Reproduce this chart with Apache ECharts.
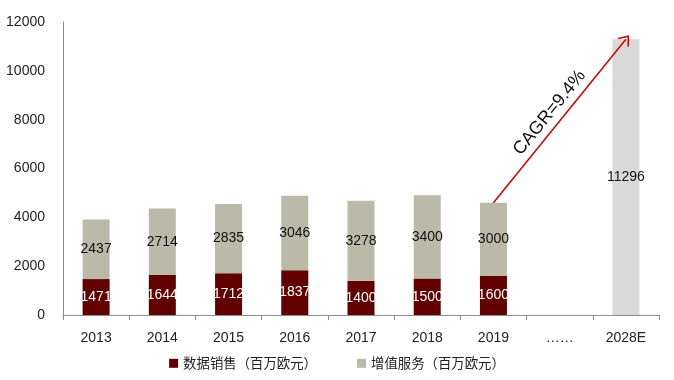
<!DOCTYPE html>
<html><head><meta charset="utf-8">
<script src="https://cdn.jsdelivr.net/npm/echarts@6/dist/echarts.min.js"></script>
<style>html,body{margin:0;padding:0;background:#fff}#c{width:674px;height:380px}</style>
</head><body><div id="c"></div>
<script>
const categories = ['2013','2014','2015','2016','2017','2018','2019','……','2028E'];
const dataSales = [1471,1644,1712,1837,1400,1500,1600,null,null];
const valueAdded = [2437,2714,2835,3046,3278,3400,3000,null,null];
const forecast = [null,null,null,null,null,null,null,null,11296];
const yTicks = {min:0, max:12000, interval:2000};
const seriesNames = ['数据销售（百万欧元）','增值服务（百万欧元）'];
const cagrText = 'CAGR=9.4%';

const numFont = '"Liberation Sans",sans-serif';
const chart = echarts.init(document.getElementById('c'), null, {renderer:'canvas'});
chart.setOption({
  animation:false,
  textStyle:{fontFamily:numFont},
  grid:{left:63,right:15,top:22,bottom:65},
  legend:{
    bottom:5, left:'center', itemWidth:9, itemHeight:9, itemGap:40, itemTextGap:3, icon:'rect',
    data:seriesNames,
    textStyle:{fontFamily:'"Noto Sans CJK SC",sans-serif',fontSize:13.4,color:'#222'}
  },
  xAxis:{
    type:'category', data:categories, boundaryGap:true,
    axisLine:{lineStyle:{color:'#8c8c8c',width:1}},
    axisTick:{show:true,length:5,lineStyle:{color:'#8c8c8c'}},
    axisLabel:{color:'#222',fontSize:14,margin:16,fontFamily:numFont}
  },
  yAxis:{
    type:'value', min:yTicks.min, max:yTicks.max, interval:yTicks.interval,
    axisLine:{show:true,lineStyle:{color:'#8c8c8c',width:1}},
    axisTick:{show:false}, splitLine:{show:false},
    axisLabel:{color:'#222',fontSize:14,margin:18,fontFamily:numFont,formatter:v=>String(v)}
  },
  series:[
    {name:seriesNames[0],type:'bar',stack:'a',barWidth:27,data:dataSales,
     itemStyle:{color:'#620000'},
     label:{show:true,position:'inside',color:'#fff',fontSize:14,fontFamily:numFont}},
    {name:seriesNames[1],type:'bar',stack:'a',barWidth:27,data:valueAdded,
     itemStyle:{color:'#bbb9a8'},
     label:{show:true,position:'inside',color:'#111',fontSize:14,fontFamily:numFont},
     markLine:{
       silent:true,
       symbol:['none','path://M0,0 L10,10 L8.6,11.4 L0,2.8 L-8.6,11.4 L-10,10 Z'],
       symbolSize:[14,10],
       itemStyle:{color:'#d00000'},
       lineStyle:{color:'#d00000',width:1.5,type:'solid'},
       label:{show:true,position:'middle',formatter:cagrText,color:'#111',fontSize:18,
              fontFamily:numFont,distance:4},
       data:[[{coord:['2019',4600]},{coord:['2028E',11296]}]]
     }},
    {name:'forecast',type:'bar',stack:'a',barWidth:27,data:forecast,
     itemStyle:{color:'#d9d9d9'},
     label:{show:true,position:'inside',color:'#111',fontSize:14,fontFamily:numFont}}
  ]
});
</script></body></html>
